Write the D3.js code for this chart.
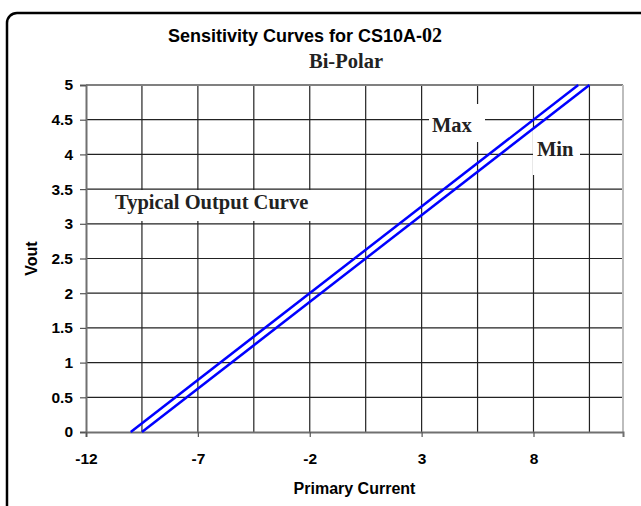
<!DOCTYPE html>
<html lang="en">
<head>
    <meta charset="UTF-8">
    <title>Sensitivity Curves for CS10A-02</title>
    <script src="https://d3js.org/d3.v7.min.js"></script>
    <style>
        body { margin: 0; background: #fff; }
        svg { display: block; }
        .axis-title { font-family: "Liberation Sans", Arial, sans-serif; font-weight: bold; font-size: 16px; }
        .note { font-family: "Liberation Serif", "Times New Roman", serif; font-weight: bold; font-size: 20.5px; fill: #222; }
    </style>
</head>
<body>
    <div id="chart"></div>

    <script>
        // Data
        const xTicks = [-12, -7, -2, 3, 8];
        const xGrid = [-9.5, -7, -4.5, -2, 0.5, 3, 5.5, 8, 10.5];
        const yTicks = [0, 0.5, 1, 1.5, 2, 2.5, 3, 3.5, 4, 4.5, 5];
        const maxCurrent = [-10, 10];
        const maxVout = [0, 5];
        const minCurrent = [-9.5, 10.5];
        const minVout = [0, 5];

        const width = 641, height = 506;
        const margin = {top: 85, right: 18, bottom: 74, left: 86};

        const svg = d3.select("#chart")
            .append("svg")
            .attr("width", width)
            .attr("height", height);

        // Outer rounded frame (runs off the right and bottom edge)
        svg.append("rect")
            .attr("x", 7)
            .attr("y", 13)
            .attr("width", 680)
            .attr("height", 520)
            .attr("rx", 10)
            .attr("fill", "none")
            .attr("stroke", "#000")
            .attr("stroke-width", 2.5);

        const x = d3.scaleLinear()
            .domain([-12, 12])
            .range([margin.left, width - margin.right]);

        const y = d3.scaleLinear()
            .domain([0, 5])
            .range([height - margin.bottom, margin.top]);

        // Grid lines
        svg.append("g")
            .selectAll("line")
            .data(xGrid)
            .join("line")
            .attr("x1", d => x(d))
            .attr("x2", d => x(d))
            .attr("y1", y(0))
            .attr("y2", y(5))
            .attr("stroke", "#222")
            .attr("stroke-width", 1.2);

        svg.append("g")
            .selectAll("line")
            .data(yTicks.filter(d => d > 0 && d < 5))
            .join("line")
            .attr("x1", x(-12))
            .attr("x2", x(12))
            .attr("y1", d => y(d))
            .attr("y2", d => y(d))
            .attr("stroke", "#222")
            .attr("stroke-width", 1.2);

        // Plot border: top and right
        svg.append("line")
            .attr("x1", x(-12)).attr("x2", x(12))
            .attr("y1", y(5)).attr("y2", y(5))
            .attr("stroke", "#808080").attr("stroke-width", 2);
        svg.append("line")
            .attr("x1", x(12)).attr("x2", x(12))
            .attr("y1", y(5)).attr("y2", y(0))
            .attr("stroke", "#bdbdbd").attr("stroke-width", 2);

        // Axes
        const yAxis = svg.append("g")
            .attr("transform", `translate(${x(-12)},0)`)
            .call(d3.axisLeft(y).tickValues(yTicks).tickSize(6).tickPadding(7).tickFormat(d => d));
        const xAxis = svg.append("g")
            .attr("transform", `translate(0,${y(0)})`)
            .call(d3.axisBottom(x).tickValues(xTicks).tickSize(5).tickPadding(16).tickFormat(d => d));

        [yAxis, xAxis].forEach(a => {
            a.select(".domain").attr("stroke", "#707070").attr("stroke-width", 2);
            a.selectAll(".tick line").attr("stroke", "#555").attr("stroke-width", 1.2);
            a.selectAll(".tick text")
                .style("font-family", "'Liberation Sans', Arial, sans-serif")
                .style("font-weight", "bold")
                .style("font-size", "15.5px")
                .attr("fill", "#000");
        });

        // Annotation labels on white boxes
        const notes = [
            {text: "Typical Output Curve", x: 115, y: 209, box: [112, 190, 203, 31]},
            {text: "Max", x: 432, y: 132, box: [429, 104, 56, 38]},
            {text: "Min", x: 537, y: 156, box: [533, 128, 47, 47]}
        ];
        notes.forEach(n => {
            svg.append("rect")
                .attr("x", n.box[0]).attr("y", n.box[1])
                .attr("width", n.box[2]).attr("height", n.box[3])
                .attr("fill", "#fff");
            svg.append("text")
                .attr("class", "note")
                .attr("x", n.x)
                .attr("y", n.y)
                .text(n.text);
        });

        // Curves
        const line = d3.line()
            .x(d => x(d[0]))
            .y(d => y(d[1]));

        [[maxCurrent, maxVout], [minCurrent, minVout]].forEach(([cur, vout]) => {
            svg.append("path")
                .datum(d3.zip(cur, vout))
                .attr("d", line)
                .attr("fill", "none")
                .attr("stroke", "#0000ff")
                .attr("stroke-width", 2.5);
        });

        // Titles
        const title = svg.append("text")
            .attr("x", 168)
            .attr("y", 42)
            .attr("font-family", "Liberation Sans, Arial, sans-serif")
            .attr("font-weight", "bold")
            .attr("font-size", "18px");
        title.append("tspan").text("Sensitivity Curves for CS10A-");
        title.append("tspan")
            .attr("font-family", "Liberation Serif, serif")
            .attr("font-size", "20px")
            .text("02");

        svg.append("text")
            .attr("class", "note")
            .attr("x", 346)
            .attr("y", 68)
            .attr("text-anchor", "middle")
            .text("Bi-Polar");

        svg.append("text")
            .attr("class", "axis-title")
            .attr("x", (x(-12) + x(12)) / 2)
            .attr("y", 494)
            .attr("text-anchor", "middle")
            .text("Primary Current");

        svg.append("text")
            .attr("class", "axis-title")
            .attr("transform", `translate(37,${(y(0) + y(5)) / 2}) rotate(-90)`)
            .attr("text-anchor", "middle")
            .text("Vout");
    </script>
</body>
</html>
